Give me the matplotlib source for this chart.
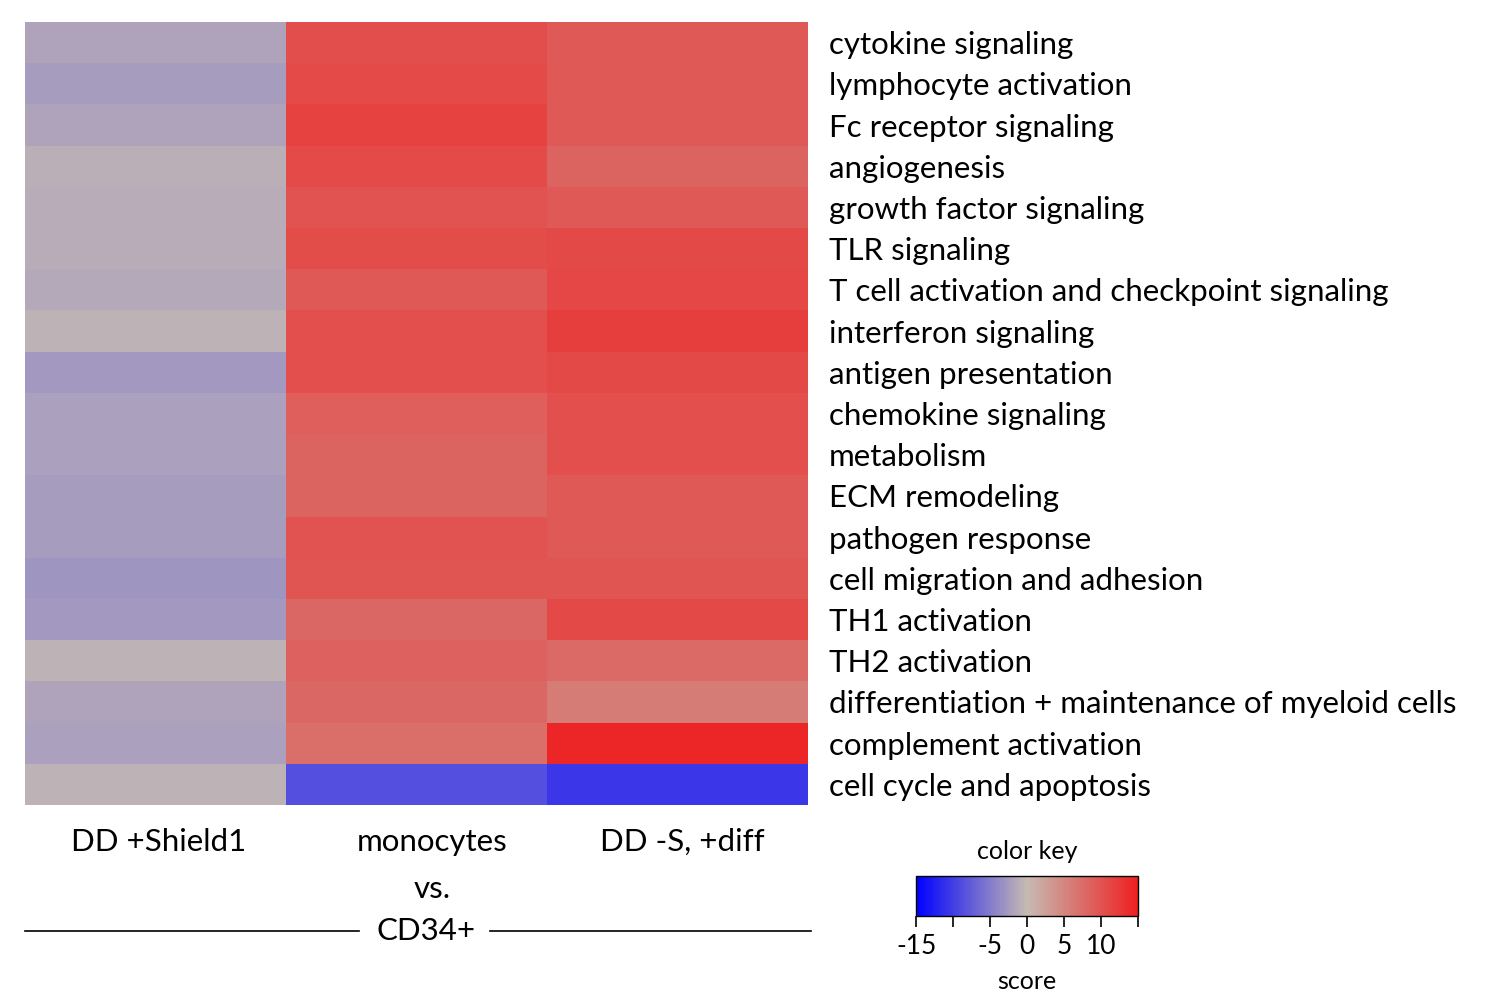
import matplotlib
import numpy as np

matplotlib.use("Agg")
import matplotlib.pyplot as plt  # noqa: E402
from matplotlib.colors import LinearSegmentedColormap, Normalize  # noqa: E402

plt.rcParams["font.family"] = ["Lato", "DejaVu Sans"]

pathways = [
    "cytokine signaling",
    "lymphocyte activation",
    "Fc receptor signaling",
    "angiogenesis",
    "growth factor signaling",
    "TLR signaling",
    "T cell activation and checkpoint signaling",
    "interferon signaling",
    "antigen presentation",
    "chemokine signaling",
    "metabolism",
    "ECM remodeling",
    "pathogen response",
    "cell migration and adhesion",
    "TH1 activation",
    "TH2 activation",
    "differentiation + maintenance of myeloid cells",
    "complement activation",
    "cell cycle and apoptosis",
]
conditions = ["DD +Shield1", "monocytes", "DD -S, +diff"]

# score per pathway
dd_shield = [-1.8, -2.4, -1.8, -0.9, -1.1, -1.1, -1.4, -0.6, -2.6, -2.1,
             -2.1, -2.4, -2.4, -3.0, -2.7, -0.6, -1.8, -2.1, -0.6]
monocytes = [10.5, 10.8, 11.7, 10.8, 10.0, 10.6, 9.4, 10.4, 10.4, 8.8,
             8.4, 8.4, 10.0, 9.8, 8.0, 8.6, 8.0, 7.3, -8.6]
dd_diff = [9.3, 9.3, 9.4, 8.4, 9.3, 10.9, 11.2, 12.0, 10.9, 10.4,
           10.4, 9.4, 9.3, 9.8, 10.9, 7.8, 6.0, 14.4, -10.5]

key_ticks = [-15, -10, -5, 0, 5, 10, 15]
key_labels = ["-15", "", "-5", "0", "5", "10", ""]

CMAP = LinearSegmentedColormap.from_list("key", ["#0000FF", "#C6BAB2", "#EE2020"])
NORM = Normalize(vmin=-15, vmax=15)
FS = 22.5

scores = np.column_stack([dd_shield, monocytes, dd_diff])
n_rows = scores.shape[0]

fig = plt.figure(figsize=(15, 10), dpi=100)
ax = fig.add_axes([0.0167, 0.195, 0.5220, 0.783])
ax.pcolormesh(scores, cmap=CMAP, norm=NORM)
ax.set_xlim(0, scores.shape[1])
ax.set_ylim(n_rows, 0)
ax.set_xticks([])
ax.yaxis.tick_right()
ax.set_yticks(np.arange(n_rows) + 0.5, pathways, fontsize=FS)
ax.tick_params(axis="y", length=0, pad=15)
for side in ax.spines.values():
    side.set_visible(False)

# column labels under the heatmap
col_dx = [0.01, 0.06, 0.02]
for i, name in enumerate(conditions):
    ax.text(i + 0.5 + col_dx[i], n_rows * 1.047, name, ha="center", va="center",
            fontsize=FS, clip_on=False)
ax.text(1.56, n_rows * 1.107, "vs.", ha="center", va="center",
        fontsize=FS, clip_on=False)
ax.text(1.535, n_rows * 1.161, "CD34+", ha="center", va="center",
        fontsize=FS, clip_on=False)
line_y = n_rows * 1.161
ax.plot([0, 1.28], [line_y, line_y], color="black", lw=1.2, clip_on=False)
ax.plot([1.78, 3.01], [line_y, line_y], color="black", lw=1.2, clip_on=False)

# colour key
cax = fig.add_axes([0.6107, 0.084, 0.148, 0.040])
sm = plt.cm.ScalarMappable(norm=NORM, cmap=CMAP)
cb = fig.colorbar(sm, cax=cax, orientation="horizontal")
cb.set_ticks(key_ticks, labels=key_labels)
cb.ax.tick_params(labelsize=19, length=8, width=1.2, pad=5)
cb.outline.set_linewidth(1.0)
cb.ax.set_title("color key", fontsize=18, pad=12)
cb.set_label("score", fontsize=18, labelpad=8)

fig.savefig("out.png", dpi=100)
